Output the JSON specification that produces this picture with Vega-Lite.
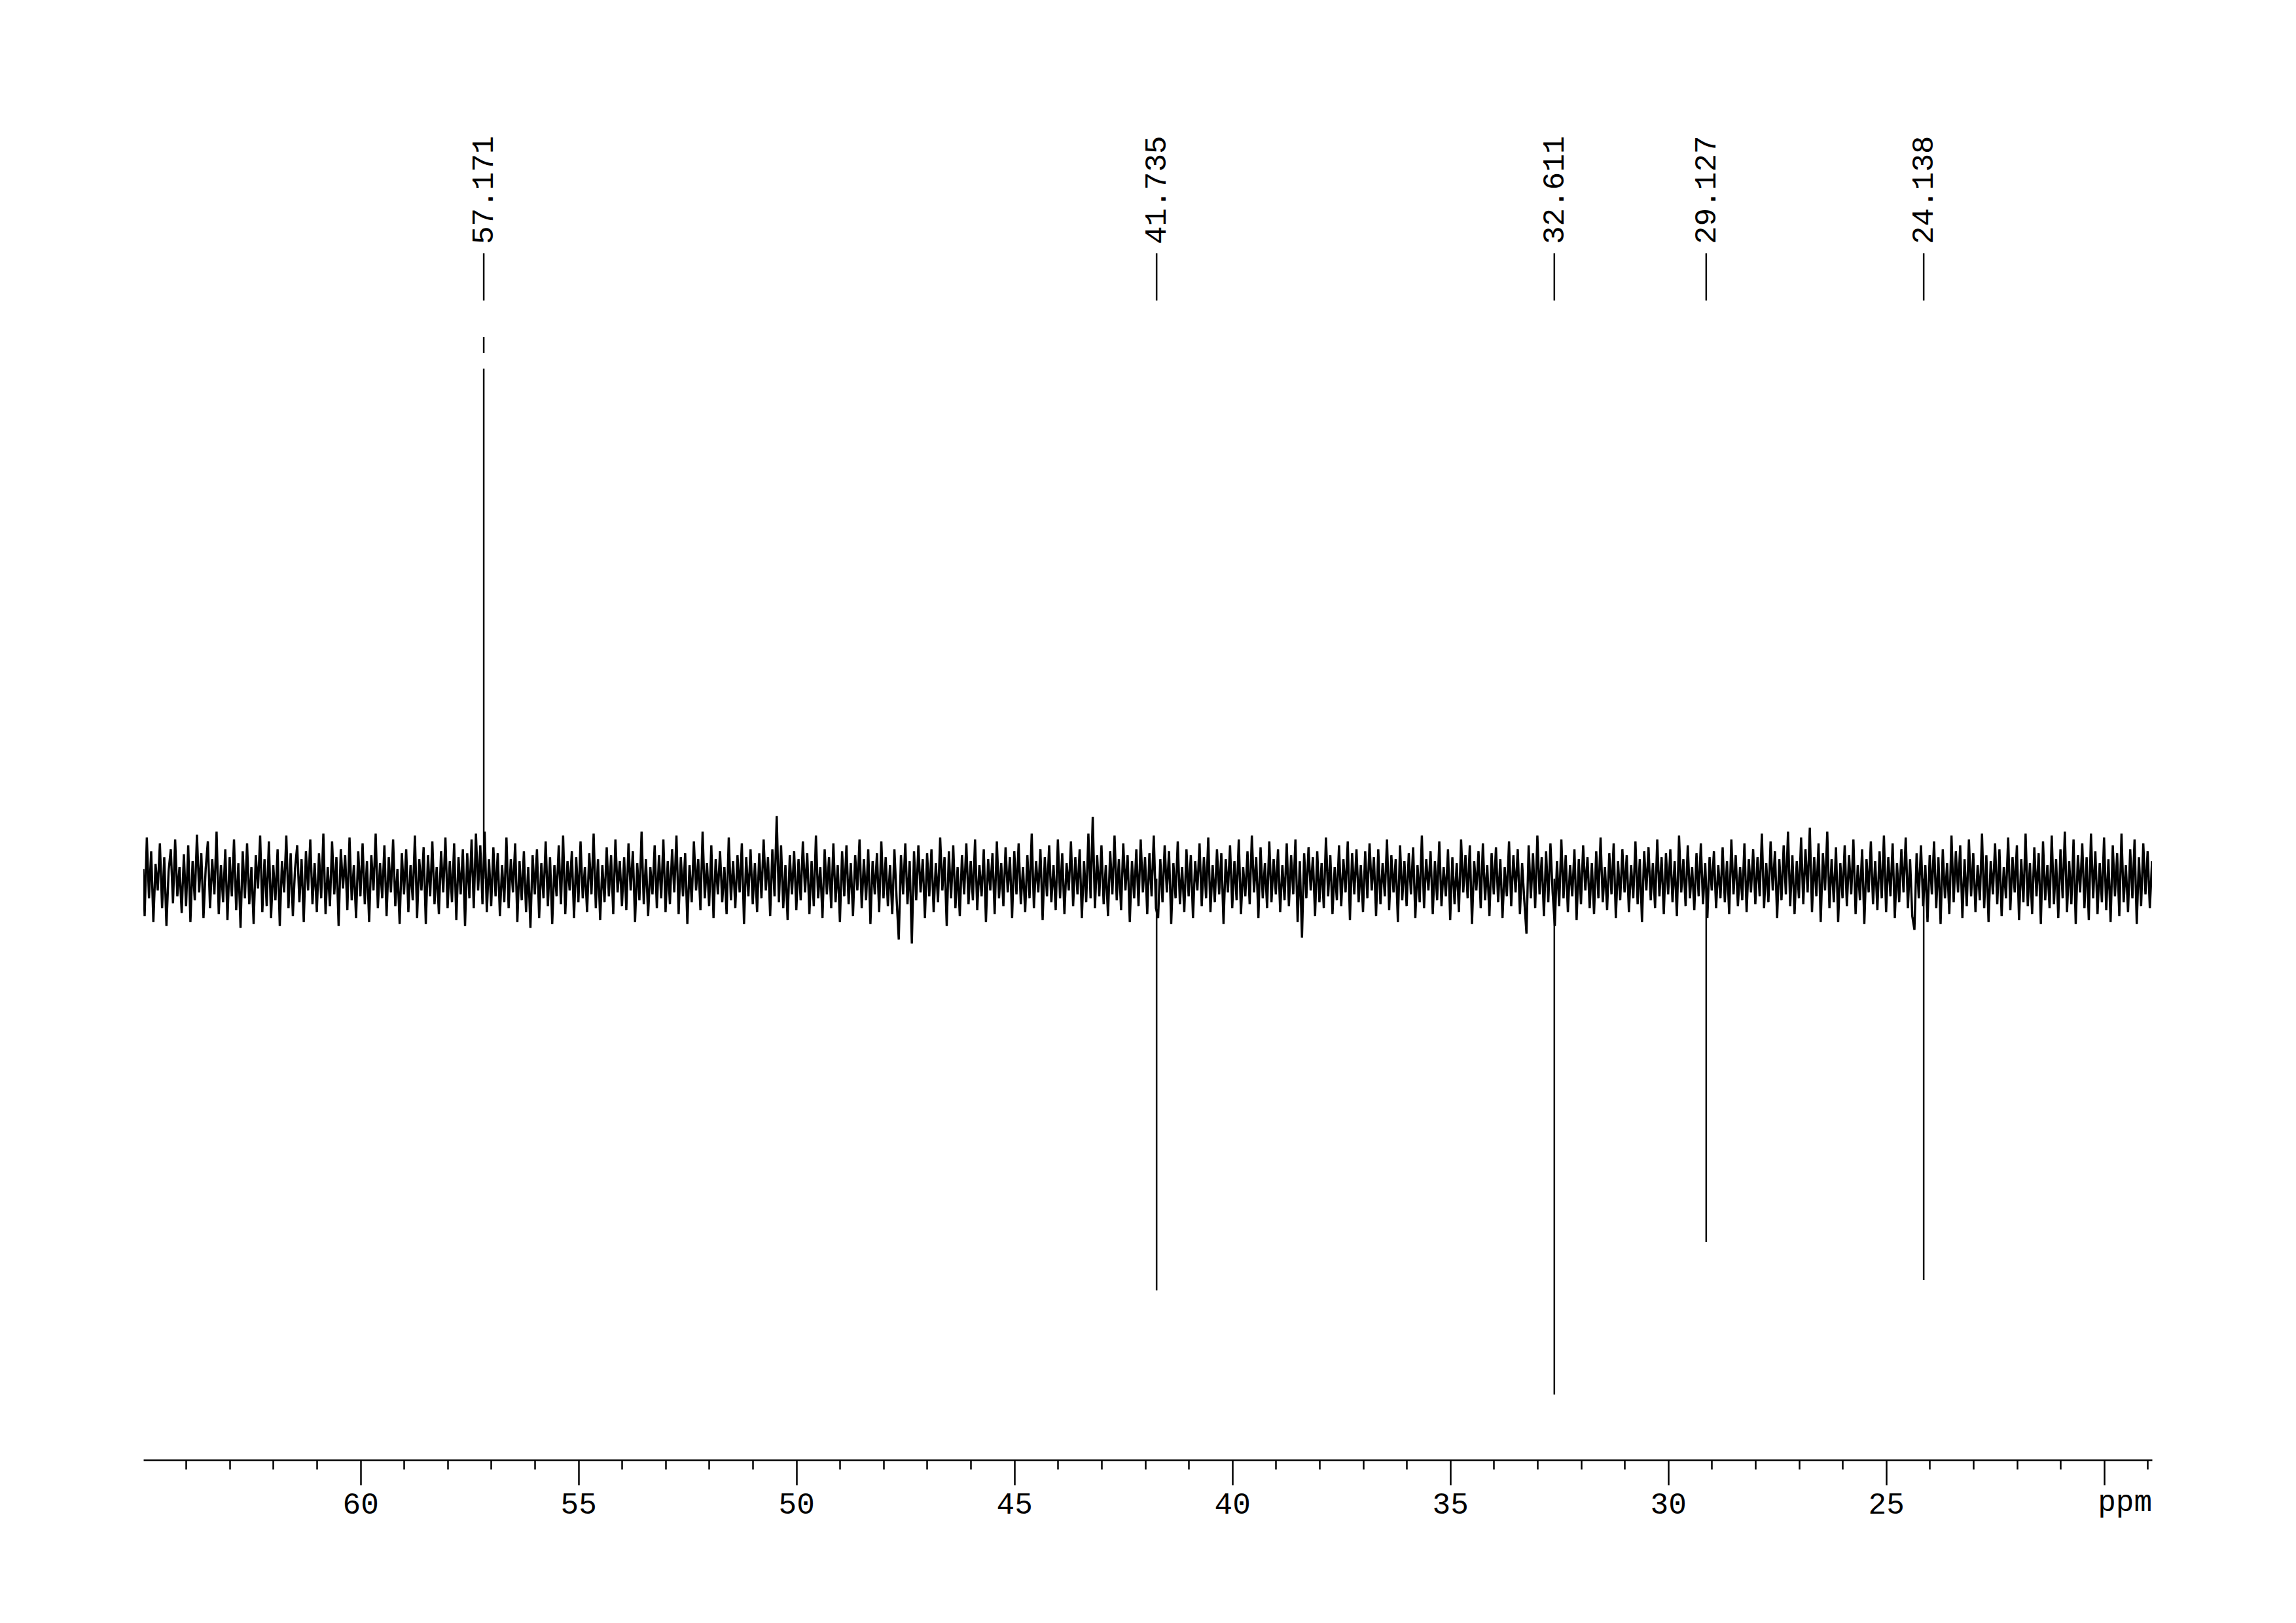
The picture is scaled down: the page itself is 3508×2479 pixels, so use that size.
{
"$schema": "https://vega.github.io/schema/vega-lite/v6.json",
"width": 3069, "height": 2230,
"autosize": {"type": "none"},
"padding": {"left": 219, "top": 0, "right": 220, "bottom": 249},
"background": "white",
"config": {"view": {"stroke": null}},
"resolve": {"scale": {"y": "independent"}},
"datasets": {
"noise": [
{"x":64.98,"y":10},{"x":64.95,"y":-38},{"x":64.90,"y":42},{"x":64.85,"y":-20},{"x":64.80,"y":28},{"x":64.75,"y":-44},{"x":64.70,"y":15},{"x":64.65,"y":-12},{"x":64.60,"y":36},{"x":64.55,"y":-30},{"x":64.50,"y":22},{"x":64.45,"y":-48},{"x":64.40,"y":8},{"x":64.35,"y":30},{"x":64.30,"y":-25},{"x":64.25,"y":40},{"x":64.20,"y":-18},{"x":64.15,"y":12},{"x":64.10,"y":-35},{"x":64.05,"y":25},{"x":64.00,"y":-28},
{"x":63.95,"y":34},{"x":63.90,"y":-44},{"x":63.85,"y":18},{"x":63.80,"y":-22},{"x":63.75,"y":45},{"x":63.70,"y":-14},{"x":63.65,"y":26},{"x":63.60,"y":-40},{"x":63.55,"y":10},{"x":63.50,"y":38},{"x":63.45,"y":-30},{"x":63.40,"y":20},{"x":63.35,"y":-16},{"x":63.30,"y":48},{"x":63.25,"y":-36},{"x":63.20,"y":14},{"x":63.15,"y":-24},{"x":63.10,"y":30},{"x":63.05,"y":-42},{"x":63.00,"y":22},
{"x":62.95,"y":-18},{"x":62.90,"y":40},{"x":62.85,"y":-32},{"x":62.80,"y":16},{"x":62.75,"y":-50},{"x":62.70,"y":28},{"x":62.65,"y":-20},{"x":62.60,"y":36},{"x":62.55,"y":-26},{"x":62.50,"y":12},{"x":62.45,"y":-46},{"x":62.40,"y":24},{"x":62.35,"y":-10},{"x":62.30,"y":44},{"x":62.25,"y":-34},{"x":62.20,"y":20},{"x":62.15,"y":-28},{"x":62.10,"y":38},{"x":62.05,"y":-40},{"x":62.00,"y":14},
{"x":61.95,"y":-22},{"x":61.90,"y":30},{"x":61.85,"y":-48},{"x":61.80,"y":18},{"x":61.75,"y":-14},{"x":61.70,"y":44},{"x":61.65,"y":-30},{"x":61.60,"y":26},{"x":61.55,"y":-38},{"x":61.50,"y":10},{"x":61.45,"y":34},{"x":61.40,"y":-24},{"x":61.35,"y":20},{"x":61.30,"y":-44},{"x":61.25,"y":28},{"x":61.20,"y":-12},{"x":61.15,"y":40},{"x":61.10,"y":-26},{"x":61.05,"y":16},{"x":61.00,"y":-34},
{"x":60.95,"y":26},{"x":60.90,"y":-20},{"x":60.85,"y":46},{"x":60.80,"y":-36},{"x":60.75,"y":12},{"x":60.70,"y":-28},{"x":60.65,"y":38},{"x":60.60,"y":-16},{"x":60.55,"y":22},{"x":60.50,"y":-48},{"x":60.45,"y":30},{"x":60.40,"y":-10},{"x":60.35,"y":24},{"x":60.30,"y":-32},{"x":60.25,"y":42},{"x":60.20,"y":-22},{"x":60.15,"y":14},{"x":60.10,"y":-40},{"x":60.05,"y":28},{"x":60.00,"y":-18},
{"x":59.95,"y":36},{"x":59.90,"y":-26},{"x":59.85,"y":18},{"x":59.80,"y":-44},{"x":59.75,"y":24},{"x":59.70,"y":-12},{"x":59.65,"y":46},{"x":59.60,"y":-30},{"x":59.55,"y":16},{"x":59.50,"y":-20},{"x":59.45,"y":34},{"x":59.40,"y":-38},{"x":59.35,"y":22},{"x":59.30,"y":-14},{"x":59.25,"y":40},{"x":59.20,"y":-28},{"x":59.15,"y":10},{"x":59.10,"y":-46},{"x":59.05,"y":26},{"x":59.00,"y":-16},
{"x":58.95,"y":30},{"x":58.90,"y":-34},{"x":58.85,"y":14},{"x":58.80,"y":-22},{"x":58.75,"y":44},{"x":58.70,"y":-40},{"x":58.65,"y":20},{"x":58.60,"y":-12},{"x":58.55,"y":32},{"x":58.50,"y":-46},{"x":58.45,"y":24},{"x":58.40,"y":-18},{"x":58.35,"y":38},{"x":58.30,"y":-26},{"x":58.25,"y":12},{"x":58.20,"y":-36},{"x":58.15,"y":28},{"x":58.10,"y":-14},{"x":58.05,"y":42},{"x":58.00,"y":-30},
{"x":57.95,"y":18},{"x":57.90,"y":-24},{"x":57.85,"y":36},{"x":57.80,"y":-42},{"x":57.75,"y":22},{"x":57.70,"y":-16},{"x":57.65,"y":30},{"x":57.60,"y":-48},{"x":57.55,"y":26},{"x":57.50,"y":-20},{"x":57.45,"y":40},{"x":57.40,"y":-30},{"x":57.35,"y":46},{"x":57.30,"y":-12},{"x":57.25,"y":34},{"x":57.20,"y":-26},{"x":57.15,"y":48},{"x":57.10,"y":-34},{"x":57.05,"y":20},{"x":57.00,"y":-28},
{"x":56.95,"y":32},{"x":56.90,"y":-18},{"x":56.85,"y":26},{"x":56.80,"y":-38},{"x":56.75,"y":14},{"x":56.70,"y":-24},{"x":56.65,"y":42},{"x":56.60,"y":-30},{"x":56.55,"y":20},{"x":56.50,"y":-14},{"x":56.45,"y":36},{"x":56.40,"y":-44},{"x":56.35,"y":18},{"x":56.30,"y":-22},{"x":56.25,"y":28},{"x":56.20,"y":-34},{"x":56.15,"y":12},{"x":56.10,"y":-50},{"x":56.05,"y":24},{"x":56.00,"y":-16},
{"x":55.95,"y":30},{"x":55.90,"y":-40},{"x":55.85,"y":16},{"x":55.80,"y":-20},{"x":55.75,"y":38},{"x":55.70,"y":-28},{"x":55.65,"y":22},{"x":55.60,"y":-46},{"x":55.55,"y":14},{"x":55.50,"y":-18},{"x":55.45,"y":34},{"x":55.40,"y":-26},{"x":55.35,"y":44},{"x":55.30,"y":-36},{"x":55.25,"y":18},{"x":55.20,"y":-12},{"x":55.15,"y":28},{"x":55.10,"y":-40},{"x":55.05,"y":22},{"x":55.00,"y":-24},
{"x":54.95,"y":38},{"x":54.90,"y":-20},{"x":54.85,"y":12},{"x":54.80,"y":-34},{"x":54.75,"y":26},{"x":54.70,"y":-16},{"x":54.65,"y":46},{"x":54.60,"y":-30},{"x":54.55,"y":20},{"x":54.50,"y":-42},{"x":54.45,"y":14},{"x":54.40,"y":-24},{"x":54.35,"y":32},{"x":54.30,"y":-18},{"x":54.25,"y":24},{"x":54.20,"y":-36},{"x":54.15,"y":40},{"x":54.10,"y":-14},{"x":54.05,"y":18},{"x":54.00,"y":-28},
{"x":53.95,"y":22},{"x":53.90,"y":-32},{"x":53.85,"y":36},{"x":53.80,"y":-12},{"x":53.75,"y":28},{"x":53.70,"y":-44},{"x":53.65,"y":16},{"x":53.60,"y":-22},{"x":53.55,"y":48},{"x":53.50,"y":-26},{"x":53.45,"y":20},{"x":53.40,"y":-38},{"x":53.35,"y":12},{"x":53.30,"y":-16},{"x":53.25,"y":34},{"x":53.20,"y":-30},{"x":53.15,"y":24},{"x":53.10,"y":-20},{"x":53.05,"y":40},{"x":53.00,"y":-34},
{"x":52.95,"y":18},{"x":52.90,"y":-26},{"x":52.85,"y":30},{"x":52.80,"y":-14},{"x":52.75,"y":44},{"x":52.70,"y":-36},{"x":52.65,"y":22},{"x":52.60,"y":-18},{"x":52.55,"y":26},{"x":52.50,"y":-46},{"x":52.45,"y":14},{"x":52.40,"y":-24},{"x":52.35,"y":38},{"x":52.30,"y":-12},{"x":52.25,"y":20},{"x":52.20,"y":-32},{"x":52.15,"y":48},{"x":52.10,"y":-20},{"x":52.05,"y":16},{"x":52.00,"y":-28},
{"x":51.95,"y":34},{"x":51.90,"y":-40},{"x":51.85,"y":20},{"x":51.80,"y":-16},{"x":51.75,"y":28},{"x":51.70,"y":-24},{"x":51.65,"y":12},{"x":51.60,"y":-36},{"x":51.55,"y":42},{"x":51.50,"y":-22},{"x":51.45,"y":18},{"x":51.40,"y":-30},{"x":51.35,"y":24},{"x":51.30,"y":-14},{"x":51.25,"y":36},{"x":51.20,"y":-46},{"x":51.15,"y":22},{"x":51.10,"y":-18},{"x":51.05,"y":30},{"x":51.00,"y":-26},
{"x":50.95,"y":16},{"x":50.90,"y":-34},{"x":50.85,"y":26},{"x":50.80,"y":-20},{"x":50.75,"y":40},{"x":50.70,"y":-12},{"x":50.65,"y":22},{"x":50.60,"y":-38},{"x":50.55,"y":30},{"x":50.50,"y":-18},{"x":50.45,"y":64},{"x":50.40,"y":-24},{"x":50.35,"y":34},{"x":50.30,"y":-30},{"x":50.25,"y":14},{"x":50.20,"y":-42},{"x":50.15,"y":24},{"x":50.10,"y":-16},{"x":50.05,"y":28},{"x":50.00,"y":-32},
{"x":49.95,"y":20},{"x":49.90,"y":-22},{"x":49.85,"y":38},{"x":49.80,"y":-14},{"x":49.75,"y":26},{"x":49.70,"y":-36},{"x":49.65,"y":18},{"x":49.60,"y":-28},{"x":49.55,"y":44},{"x":49.50,"y":-20},{"x":49.45,"y":12},{"x":49.40,"y":-40},{"x":49.35,"y":30},{"x":49.30,"y":-16},{"x":49.25,"y":22},{"x":49.20,"y":-30},{"x":49.15,"y":36},{"x":49.10,"y":-24},{"x":49.05,"y":14},{"x":49.00,"y":-44},
{"x":48.95,"y":28},{"x":48.90,"y":-18},{"x":48.85,"y":34},{"x":48.80,"y":-26},{"x":48.75,"y":16},{"x":48.70,"y":-38},{"x":48.65,"y":24},{"x":48.60,"y":-12},{"x":48.55,"y":40},{"x":48.50,"y":-30},{"x":48.45,"y":20},{"x":48.40,"y":-22},{"x":48.35,"y":30},{"x":48.30,"y":-46},{"x":48.25,"y":18},{"x":48.20,"y":-16},{"x":48.15,"y":26},{"x":48.10,"y":-34},{"x":48.05,"y":38},{"x":48.00,"y":-20},
{"x":47.95,"y":22},{"x":47.90,"y":-28},{"x":47.85,"y":14},{"x":47.80,"y":-36},{"x":47.75,"y":30},{"x":47.70,"y":-20},{"x":47.65,"y":-62},{"x":47.60,"y":24},{"x":47.55,"y":-16},{"x":47.50,"y":36},{"x":47.45,"y":-26},{"x":47.40,"y":18},{"x":47.35,"y":-66},{"x":47.30,"y":28},{"x":47.25,"y":-22},{"x":47.20,"y":34},{"x":47.15,"y":-14},{"x":47.10,"y":20},{"x":47.05,"y":-40},{"x":47.00,"y":26},
{"x":46.95,"y":-18},{"x":46.90,"y":30},{"x":46.85,"y":-34},{"x":46.80,"y":16},{"x":46.75,"y":-24},{"x":46.70,"y":42},{"x":46.65,"y":-12},{"x":46.60,"y":22},{"x":46.55,"y":-48},{"x":46.50,"y":28},{"x":46.45,"y":-20},{"x":46.40,"y":34},{"x":46.35,"y":-30},{"x":46.30,"y":12},{"x":46.25,"y":-38},{"x":46.20,"y":24},{"x":46.15,"y":-16},{"x":46.10,"y":36},{"x":46.05,"y":-26},{"x":46.00,"y":18},
{"x":45.95,"y":-22},{"x":45.90,"y":40},{"x":45.85,"y":-32},{"x":45.80,"y":14},{"x":45.75,"y":-18},{"x":45.70,"y":30},{"x":45.65,"y":-44},{"x":45.60,"y":20},{"x":45.55,"y":-12},{"x":45.50,"y":26},{"x":45.45,"y":-36},{"x":45.40,"y":38},{"x":45.35,"y":-20},{"x":45.30,"y":16},{"x":45.25,"y":-28},{"x":45.20,"y":32},{"x":45.15,"y":-14},{"x":45.10,"y":22},{"x":45.05,"y":-40},{"x":45.00,"y":28},
{"x":44.95,"y":-16},{"x":44.90,"y":36},{"x":44.85,"y":-26},{"x":44.80,"y":12},{"x":44.75,"y":-34},{"x":44.70,"y":24},{"x":44.65,"y":-20},{"x":44.60,"y":46},{"x":44.55,"y":-30},{"x":44.50,"y":18},{"x":44.45,"y":-14},{"x":44.40,"y":30},{"x":44.35,"y":-42},{"x":44.30,"y":22},{"x":44.25,"y":-18},{"x":44.20,"y":34},{"x":44.15,"y":-24},{"x":44.10,"y":14},{"x":44.05,"y":-32},{"x":44.00,"y":40},
{"x":43.95,"y":-20},{"x":43.90,"y":26},{"x":43.85,"y":-36},{"x":43.80,"y":16},{"x":43.75,"y":-12},{"x":43.70,"y":38},{"x":43.65,"y":-28},{"x":43.60,"y":22},{"x":43.55,"y":-16},{"x":43.50,"y":30},{"x":43.45,"y":-40},{"x":43.40,"y":18},{"x":43.35,"y":-24},{"x":43.30,"y":46},{"x":43.25,"y":-20},{"x":43.20,"y":63},{"x":43.15,"y":-30},{"x":43.10,"y":24},{"x":43.05,"y":-18},{"x":43.00,"y":34},
{"x":42.95,"y":-26},{"x":42.90,"y":14},{"x":42.85,"y":-38},{"x":42.80,"y":28},{"x":42.75,"y":-16},{"x":42.70,"y":44},{"x":42.65,"y":-22},{"x":42.60,"y":20},{"x":42.55,"y":-32},{"x":42.50,"y":36},{"x":42.45,"y":-12},{"x":42.40,"y":24},{"x":42.35,"y":-44},{"x":42.30,"y":18},{"x":42.25,"y":-20},{"x":42.20,"y":30},{"x":42.15,"y":-28},{"x":42.10,"y":40},{"x":42.05,"y":-14},{"x":42.00,"y":22},
{"x":41.95,"y":-36},{"x":41.90,"y":26},{"x":41.85,"y":-18},{"x":41.80,"y":44},{"x":41.75,"y":-30},{"x":41.70,"y":-40},{"x":41.65,"y":20},{"x":41.60,"y":-24},{"x":41.55,"y":34},{"x":41.50,"y":-14},{"x":41.45,"y":28},{"x":41.40,"y":-46},{"x":41.35,"y":16},{"x":41.30,"y":-20},{"x":41.25,"y":38},{"x":41.20,"y":-26},{"x":41.15,"y":12},{"x":41.10,"y":-34},{"x":41.05,"y":30},{"x":41.00,"y":-18},
{"x":40.95,"y":24},{"x":40.90,"y":-40},{"x":40.85,"y":18},{"x":40.80,"y":-12},{"x":40.75,"y":36},{"x":40.70,"y":-28},{"x":40.65,"y":22},{"x":40.60,"y":-20},{"x":40.55,"y":42},{"x":40.50,"y":-34},{"x":40.45,"y":14},{"x":40.40,"y":-24},{"x":40.35,"y":30},{"x":40.30,"y":-16},{"x":40.25,"y":26},{"x":40.20,"y":-46},{"x":40.15,"y":20},{"x":40.10,"y":-14},{"x":40.05,"y":34},{"x":40.00,"y":-30},
{"x":39.95,"y":18},{"x":39.90,"y":-22},{"x":39.85,"y":40},{"x":39.80,"y":-36},{"x":39.75,"y":12},{"x":39.70,"y":-18},{"x":39.65,"y":28},{"x":39.60,"y":-26},{"x":39.55,"y":44},{"x":39.50,"y":-14},{"x":39.45,"y":22},{"x":39.40,"y":-40},{"x":39.35,"y":32},{"x":39.30,"y":-20},{"x":39.25,"y":16},{"x":39.20,"y":-30},{"x":39.15,"y":38},{"x":39.10,"y":-24},{"x":39.05,"y":20},{"x":39.00,"y":-16},
{"x":38.95,"y":30},{"x":38.90,"y":-34},{"x":38.85,"y":14},{"x":38.80,"y":-22},{"x":38.75,"y":36},{"x":38.70,"y":-28},{"x":38.65,"y":24},{"x":38.60,"y":-16},{"x":38.55,"y":40},{"x":38.50,"y":-44},{"x":38.45,"y":18},{"x":38.40,"y":-60},{"x":38.35,"y":26},{"x":38.30,"y":-20},{"x":38.25,"y":32},{"x":38.20,"y":-12},{"x":38.15,"y":22},{"x":38.10,"y":-38},{"x":38.05,"y":28},{"x":38.00,"y":-24},
{"x":37.95,"y":16},{"x":37.90,"y":-30},{"x":37.85,"y":42},{"x":37.80,"y":-18},{"x":37.75,"y":24},{"x":37.70,"y":-36},{"x":37.65,"y":12},{"x":37.60,"y":-22},{"x":37.55,"y":34},{"x":37.50,"y":-28},{"x":37.45,"y":20},{"x":37.40,"y":-14},{"x":37.35,"y":38},{"x":37.30,"y":-42},{"x":37.25,"y":26},{"x":37.20,"y":-16},{"x":37.15,"y":30},{"x":37.10,"y":-24},{"x":37.05,"y":14},{"x":37.00,"y":-34},
{"x":36.95,"y":28},{"x":36.90,"y":-20},{"x":36.85,"y":36},{"x":36.80,"y":-12},{"x":36.75,"y":22},{"x":36.70,"y":-38},{"x":36.65,"y":30},{"x":36.60,"y":-26},{"x":36.55,"y":16},{"x":36.50,"y":-18},{"x":36.45,"y":40},{"x":36.40,"y":-32},{"x":36.35,"y":24},{"x":36.30,"y":-14},{"x":36.25,"y":20},{"x":36.20,"y":-44},{"x":36.15,"y":34},{"x":36.10,"y":-22},{"x":36.05,"y":18},{"x":36.00,"y":-28},
{"x":35.95,"y":26},{"x":35.90,"y":-16},{"x":35.85,"y":32},{"x":35.80,"y":-40},{"x":35.75,"y":14},{"x":35.70,"y":-24},{"x":35.65,"y":44},{"x":35.60,"y":-30},{"x":35.55,"y":20},{"x":35.50,"y":-12},{"x":35.45,"y":28},{"x":35.40,"y":-36},{"x":35.35,"y":18},{"x":35.30,"y":-22},{"x":35.25,"y":38},{"x":35.20,"y":-28},{"x":35.15,"y":12},{"x":35.10,"y":-18},{"x":35.05,"y":30},{"x":35.00,"y":-42},
{"x":34.95,"y":22},{"x":34.90,"y":-26},{"x":34.85,"y":16},{"x":34.80,"y":-34},{"x":34.75,"y":40},{"x":34.70,"y":-14},{"x":34.65,"y":24},{"x":34.60,"y":-20},{"x":34.55,"y":34},{"x":34.50,"y":-46},{"x":34.45,"y":18},{"x":34.40,"y":-12},{"x":34.35,"y":28},{"x":34.30,"y":-30},{"x":34.25,"y":36},{"x":34.20,"y":-22},{"x":34.15,"y":14},{"x":34.10,"y":-38},{"x":34.05,"y":26},{"x":34.00,"y":-16},
{"x":33.95,"y":32},{"x":33.90,"y":-24},{"x":33.85,"y":20},{"x":33.80,"y":-40},{"x":33.75,"y":12},{"x":33.70,"y":-18},{"x":33.65,"y":38},{"x":33.60,"y":-28},{"x":33.55,"y":24},{"x":33.50,"y":-14},{"x":33.45,"y":30},{"x":33.40,"y":-36},{"x":33.35,"y":16},{"x":33.30,"y":-22},{"x":33.25,"y":-56},{"x":33.20,"y":34},{"x":33.15,"y":-20},{"x":33.10,"y":26},{"x":33.05,"y":-30},{"x":33.00,"y":44},
{"x":32.95,"y":-16},{"x":32.90,"y":22},{"x":32.85,"y":-38},{"x":32.80,"y":28},{"x":32.75,"y":-24},{"x":32.70,"y":36},{"x":32.65,"y":-14},{"x":32.60,"y":-48},{"x":32.55,"y":18},{"x":32.50,"y":-28},{"x":32.45,"y":40},{"x":32.40,"y":-20},{"x":32.35,"y":24},{"x":32.30,"y":-34},{"x":32.25,"y":14},{"x":32.20,"y":-18},{"x":32.15,"y":30},{"x":32.10,"y":-42},{"x":32.05,"y":20},{"x":32.00,"y":-26},
{"x":31.95,"y":34},{"x":31.90,"y":-12},{"x":31.85,"y":22},{"x":31.80,"y":-30},{"x":31.75,"y":16},{"x":31.70,"y":-36},{"x":31.65,"y":28},{"x":31.60,"y":-20},{"x":31.55,"y":42},{"x":31.50,"y":-24},{"x":31.45,"y":12},{"x":31.40,"y":-32},{"x":31.35,"y":26},{"x":31.30,"y":-16},{"x":31.25,"y":36},{"x":31.20,"y":-40},{"x":31.15,"y":18},{"x":31.10,"y":-22},{"x":31.05,"y":30},{"x":31.00,"y":-14},
{"x":30.95,"y":24},{"x":30.90,"y":-34},{"x":30.85,"y":14},{"x":30.80,"y":-20},{"x":30.75,"y":38},{"x":30.70,"y":-26},{"x":30.65,"y":20},{"x":30.60,"y":-44},{"x":30.55,"y":28},{"x":30.50,"y":-12},{"x":30.45,"y":32},{"x":30.40,"y":-22},{"x":30.35,"y":16},{"x":30.30,"y":-30},{"x":30.25,"y":40},{"x":30.20,"y":-18},{"x":30.15,"y":22},{"x":30.10,"y":-36},{"x":30.05,"y":26},{"x":30.00,"y":-16},
{"x":29.95,"y":30},{"x":29.90,"y":-24},{"x":29.85,"y":18},{"x":29.80,"y":-38},{"x":29.75,"y":44},{"x":29.70,"y":-14},{"x":29.65,"y":20},{"x":29.60,"y":-28},{"x":29.55,"y":34},{"x":29.50,"y":-20},{"x":29.45,"y":12},{"x":29.40,"y":-32},{"x":29.35,"y":26},{"x":29.30,"y":-18},{"x":29.25,"y":36},{"x":29.20,"y":-26},{"x":29.15,"y":16},{"x":29.10,"y":-40},{"x":29.05,"y":22},{"x":29.00,"y":-12},
{"x":28.95,"y":28},{"x":28.90,"y":-30},{"x":28.85,"y":14},{"x":28.80,"y":-20},{"x":28.75,"y":32},{"x":28.70,"y":-24},{"x":28.65,"y":18},{"x":28.60,"y":-36},{"x":28.55,"y":40},{"x":28.50,"y":-16},{"x":28.45,"y":24},{"x":28.40,"y":-28},{"x":28.35,"y":12},{"x":28.30,"y":-22},{"x":28.25,"y":36},{"x":28.20,"y":-34},{"x":28.15,"y":20},{"x":28.10,"y":-14},{"x":28.05,"y":30},{"x":28.00,"y":-26},
{"x":27.95,"y":22},{"x":27.90,"y":-18},{"x":27.85,"y":46},{"x":27.80,"y":-30},{"x":27.75,"y":16},{"x":27.70,"y":-24},{"x":27.65,"y":38},{"x":27.60,"y":-12},{"x":27.55,"y":28},{"x":27.50,"y":-40},{"x":27.45,"y":20},{"x":27.40,"y":-22},{"x":27.35,"y":34},{"x":27.30,"y":-16},{"x":27.25,"y":48},{"x":27.20,"y":-28},{"x":27.15,"y":24},{"x":27.10,"y":-36},{"x":27.05,"y":18},{"x":27.00,"y":-20},
{"x":26.95,"y":42},{"x":26.90,"y":-26},{"x":26.85,"y":30},{"x":26.80,"y":-14},{"x":26.75,"y":52},{"x":26.70,"y":-34},{"x":26.65,"y":22},{"x":26.60,"y":-18},{"x":26.55,"y":36},{"x":26.50,"y":-44},{"x":26.45,"y":26},{"x":26.40,"y":-12},{"x":26.35,"y":48},{"x":26.30,"y":-30},{"x":26.25,"y":20},{"x":26.20,"y":-24},{"x":26.15,"y":32},{"x":26.10,"y":-44},{"x":26.05,"y":16},{"x":26.00,"y":-20},
{"x":25.95,"y":34},{"x":25.90,"y":-28},{"x":25.85,"y":24},{"x":25.80,"y":-16},{"x":25.75,"y":40},{"x":25.70,"y":-36},{"x":25.65,"y":14},{"x":25.60,"y":-22},{"x":25.55,"y":30},{"x":25.50,"y":-46},{"x":25.45,"y":20},{"x":25.40,"y":-14},{"x":25.35,"y":38},{"x":25.30,"y":-26},{"x":25.25,"y":18},{"x":25.20,"y":-32},{"x":25.15,"y":28},{"x":25.10,"y":-20},{"x":25.05,"y":44},{"x":25.00,"y":-34},
{"x":24.95,"y":22},{"x":24.90,"y":-18},{"x":24.85,"y":36},{"x":24.80,"y":-40},{"x":24.75,"y":16},{"x":24.70,"y":-24},{"x":24.65,"y":30},{"x":24.60,"y":-14},{"x":24.55,"y":42},{"x":24.50,"y":-30},{"x":24.45,"y":20},{"x":24.40,"y":-38},{"x":24.35,"y":-52},{"x":24.30,"y":26},{"x":24.25,"y":-20},{"x":24.20,"y":34},{"x":24.15,"y":-28},{"x":24.10,"y":14},{"x":24.05,"y":-44},{"x":24.00,"y":24},
{"x":23.95,"y":-16},{"x":23.90,"y":38},{"x":23.85,"y":-30},{"x":23.80,"y":22},{"x":23.75,"y":-46},{"x":23.70,"y":30},{"x":23.65,"y":-20},{"x":23.60,"y":16},{"x":23.55,"y":-36},{"x":23.50,"y":44},{"x":23.45,"y":-24},{"x":23.40,"y":28},{"x":23.35,"y":-14},{"x":23.30,"y":34},{"x":23.25,"y":-40},{"x":23.20,"y":20},{"x":23.15,"y":-28},{"x":23.10,"y":40},{"x":23.05,"y":-18},{"x":23.00,"y":26},
{"x":22.95,"y":-34},{"x":22.90,"y":14},{"x":22.85,"y":-22},{"x":22.80,"y":46},{"x":22.75,"y":-30},{"x":22.70,"y":24},{"x":22.65,"y":-44},{"x":22.60,"y":18},{"x":22.55,"y":-16},{"x":22.50,"y":36},{"x":22.45,"y":-26},{"x":22.40,"y":30},{"x":22.35,"y":-38},{"x":22.30,"y":12},{"x":22.25,"y":-20},{"x":22.20,"y":42},{"x":22.15,"y":-32},{"x":22.10,"y":22},{"x":22.05,"y":-14},{"x":22.00,"y":34},
{"x":21.95,"y":-42},{"x":21.90,"y":20},{"x":21.85,"y":-24},{"x":21.80,"y":46},{"x":21.75,"y":-28},{"x":21.70,"y":16},{"x":21.65,"y":-36},{"x":21.60,"y":32},{"x":21.55,"y":-18},{"x":21.50,"y":26},{"x":21.45,"y":-46},{"x":21.40,"y":38},{"x":21.35,"y":-22},{"x":21.30,"y":14},{"x":21.25,"y":-30},{"x":21.20,"y":44},{"x":21.15,"y":-26},{"x":21.10,"y":20},{"x":21.05,"y":-40},{"x":21.00,"y":30},
{"x":20.95,"y":-20},{"x":20.90,"y":48},{"x":20.85,"y":-34},{"x":20.80,"y":18},{"x":20.75,"y":-26},{"x":20.70,"y":40},{"x":20.65,"y":-46},{"x":20.60,"y":24},{"x":20.55,"y":-14},{"x":20.50,"y":36},{"x":20.45,"y":-30},{"x":20.40,"y":22},{"x":20.35,"y":-42},{"x":20.30,"y":46},{"x":20.25,"y":-20},{"x":20.20,"y":28},{"x":20.15,"y":-36},{"x":20.10,"y":16},{"x":20.05,"y":-24},{"x":20.00,"y":42},
{"x":19.95,"y":-32},{"x":19.90,"y":20},{"x":19.85,"y":-44},{"x":19.80,"y":34},{"x":19.75,"y":-18},{"x":19.70,"y":26},{"x":19.65,"y":-38},{"x":19.60,"y":46},{"x":19.55,"y":-24},{"x":19.50,"y":14},{"x":19.45,"y":-34},{"x":19.40,"y":30},{"x":19.35,"y":-20},{"x":19.30,"y":40},{"x":19.25,"y":-46},{"x":19.20,"y":22},{"x":19.15,"y":-28},{"x":19.10,"y":36},{"x":19.05,"y":-16},{"x":19.00,"y":28},
{"x":18.95,"y":-30},{"x":18.90,"y":18}
],
"peaks": [
{"x":57.171,"y":0,"y2":779},
{"x":57.171,"y":803,"y2":827},
{"x":41.735,"y":0,"y2":-629},
{"x":32.611,"y":0,"y2":-788},
{"x":29.127,"y":0,"y2":-555},
{"x":24.138,"y":0,"y2":-613}
],
"labels": [
{"x":57.171,"label":"57.171","y":883,"y2":955,"ty":969},
{"x":41.735,"label":"41.735","y":883,"y2":955,"ty":969},
{"x":32.611,"label":"32.611","y":883,"y2":955,"ty":969},
{"x":29.127,"label":"29.127","y":883,"y2":955,"ty":969},
{"x":24.138,"label":"24.138","y":883,"y2":955,"ty":969}
],
"unit": [
{"x":18.9,"label":"ppm","y":-966}
]
},
"layer": [
{
"data": {"name": "noise"},
"mark": {"type": "line", "color": "black", "strokeWidth": 3.4, "clip": true},
"encoding": {
"x": {"field": "x", "type": "quantitative", "title": null,
"scale": {"domain": [64.98, 18.9], "nice": false, "zero": false},
"axis": {
"values": [64,63,62,61,60,59,58,57,56,55,54,53,52,51,50,49,48,47,46,45,44,43,42,41,40,39,38,37,36,35,34,33,32,31,30,29,28,27,26,25,24,23,22,21,20,19],
"format": "d",
"tickSize": {"condition": {"test": "datum.value % 5 === 0", "value": 38}, "value": 14},
"tickWidth": 2.5, "tickColor": "black",
"domainWidth": 2.5, "domainColor": "black",
"grid": false, "labelOverlap": false, "labelFlush": false,
"labelExpr": "(datum.value % 5 === 0 && datum.value !== 20) ? datum.label : ''",
"labelFont": "Liberation Mono", "labelFontSize": 46, "labelColor": "black",
"labelPadding": 7
}},
"y": {"field": "y", "type": "quantitative", "axis": null,
"scale": {"domain": [-592, 895], "nice": false, "zero": false}}
}
},
{
"data": {"name": "peaks"},
"mark": {"type": "rule", "color": "black", "strokeWidth": 2.5},
"encoding": {
"x": {"field": "x", "type": "quantitative", "title": null},
"y": {"field": "y", "type": "quantitative", "axis": null, "scale": {"domain": [-888, 1342], "nice": false, "zero": false}},
"y2": {"field": "y2"}
}
},
{
"data": {"name": "labels"},
"mark": {"type": "rule", "color": "black", "strokeWidth": 2.5},
"encoding": {
"x": {"field": "x", "type": "quantitative", "title": null},
"y": {"field": "y", "type": "quantitative", "axis": null, "scale": {"domain": [-888, 1342], "nice": false, "zero": false}},
"y2": {"field": "y2"}
}
},
{
"data": {"name": "labels"},
"mark": {"type": "text", "color": "black", "angle": 270, "align": "left", "baseline": "middle", "font": "Liberation Mono", "fontSize": 46},
"encoding": {
"x": {"field": "x", "type": "quantitative", "title": null},
"y": {"field": "ty", "type": "quantitative", "axis": null, "scale": {"domain": [-888, 1342], "nice": false, "zero": false}},
"text": {"field": "label"}
}
},
{
"data": {"name": "unit"},
"mark": {"type": "text", "color": "black", "align": "right", "baseline": "alphabetic", "font": "Liberation Mono", "fontSize": 46},
"encoding": {
"x": {"field": "x", "type": "quantitative", "title": null},
"y": {"field": "y", "type": "quantitative", "axis": null, "scale": {"domain": [-888, 1342], "nice": false, "zero": false}},
"text": {"field": "label"}
}
}
]
}
